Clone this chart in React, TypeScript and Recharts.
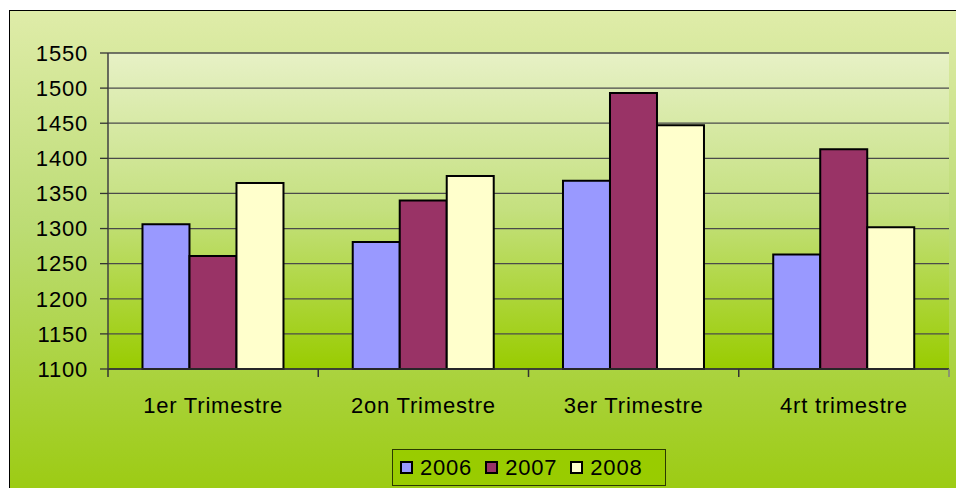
import { BarChart, Bar, XAxis, YAxis, CartesianGrid, Legend } from "recharts"

const quarters = ["1er Trimestre", "2on Trimestre", "3er Trimestre", "4rt trimestre"]
const values2006 = [1306, 1281, 1368, 1263]
const values2007 = [1261, 1340, 1493, 1413]
const values2008 = [1365, 1375, 1447, 1302]
const yTicks = [1100, 1150, 1200, 1250, 1300, 1350, 1400, 1450, 1500, 1550]

const series = [
  { key: "2006", values: values2006, color: "#9999ff" },
  { key: "2007", values: values2007, color: "#993366" },
  { key: "2008", values: values2008, color: "#ffffcc" },
]

const data = quarters.map((q, i) => {
  const row: Record<string, string | number> = { quarter: q }
  series.forEach((s) => {
    row[s.key] = s.values[i]
  })
  return row
})

const CHART_W = 946
const CHART_H = 478
const Y_AXIS_W = 98
const RIGHT_M = 7
const BAND = (CHART_W - Y_AXIS_W - RIGHT_M) / quarters.length
const FONT = "Arial, 'Liberation Sans', sans-serif"

function QuarterTick(props: any) {
  const { x, y, payload, index } = props
  const left = x - BAND / 2
  const right = x + BAND / 2
  return (
    <g>
      <line x1={left} y1={y} x2={left} y2={y + 8} stroke="#333" strokeWidth={1.5} />
      {index === quarters.length - 1 && (
        <line x1={right} y1={y} x2={right} y2={y + 8} stroke="#808080" strokeWidth={1.5} />
      )}
      <text
        x={x}
        y={y + 44}
        textAnchor="middle"
        fill="#000"
        fontSize={22}
        fontFamily={FONT}
        style={{ letterSpacing: 0.8 }}
      >
        {payload.value}
      </text>
    </g>
  )
}

function YearLegend() {
  return (
    <div
      style={{
        width: 274,
        height: 37,
        border: "1px solid #2b3a00",
        background: "#99cc00",
        display: "flex",
        alignItems: "center",
        paddingLeft: 7,
        boxSizing: "border-box",
        fontFamily: FONT,
        fontSize: 22,
        letterSpacing: 0.8,
        color: "#000",
      }}
    >
      {series.map((s) => (
        <div key={s.key} style={{ display: "flex", alignItems: "center", marginRight: 13 }}>
          <span
            style={{
              width: 9,
              height: 9,
              border: "2px solid #000",
              background: s.color,
              marginRight: 7,
            }}
          />
          <span>{s.key}</span>
        </div>
      ))}
    </div>
  )
}

export default function App() {
  return (
    <div
      style={{
        position: "fixed",
        left: 9,
        top: 10,
        width: 960,
        height: CHART_H + 4,
        border: "1px solid #000",
        background: "linear-gradient(to bottom, #dfeca9 0%, #bcdc74 45%, #9ccb12 100%)",
      }}
    >
      <BarChart
        width={CHART_W}
        height={CHART_H}
        data={data}
        margin={{ top: 42, right: RIGHT_M, left: 0, bottom: 0 }}
        barCategoryGap="16.4%"
        barGap={0}
      >
        <defs>
          <linearGradient id="plotBg" x1="0" y1="0" x2="0" y2="1">
            <stop offset="0%" stopColor="#e7f1c6" />
            <stop offset="50%" stopColor="#c4e07e" />
            <stop offset="100%" stopColor="#99cc00" />
          </linearGradient>
        </defs>
        <CartesianGrid
          vertical={false}
          stroke="#4a4a4a"
          strokeWidth={1.3}
          fill="url(#plotBg)"
          fillOpacity={1}
        />
        <XAxis
          dataKey="quarter"
          height={120}
          tickSize={0}
          tickMargin={0}
          tickLine={false}
          axisLine={{ stroke: "#333", strokeWidth: 1.5 }}
          tick={<QuarterTick />}
          interval={0}
        />
        <XAxis
          xAxisId="top"
          dataKey="quarter"
          orientation="top"
          height={0}
          tick={false}
          tickLine={false}
          axisLine={{ stroke: "#808080", strokeWidth: 2 }}
        />
        <YAxis
          width={Y_AXIS_W}
          domain={[1100, 1550]}
          ticks={yTicks}
          interval={0}
          tickSize={8}
          tickMargin={12}
          tickLine={{ stroke: "#333", strokeWidth: 1.3 }}
          axisLine={{ stroke: "#404040", strokeWidth: 1.5 }}
          tick={{ fill: "#000", fontSize: 22, fontFamily: FONT, letterSpacing: 0.8 }}
        />
        <YAxis
          yAxisId="right"
          orientation="right"
          width={0}
          domain={[1100, 1550]}
          tick={false}
          tickLine={false}
          axisLine={{ stroke: "#808080", strokeWidth: 2 }}
        />
        <Legend
          layout="horizontal"
          verticalAlign="middle"
          align="center"
          content={<YearLegend />}
          wrapperStyle={{ left: 382, top: 438, width: 274, height: 37 }}
        />
        {series.map((s) => (
          <Bar
            key={s.key}
            dataKey={s.key}
            fill={s.color}
            stroke="#000"
            strokeWidth={2}
            isAnimationActive={false}
          />
        ))}
      </BarChart>
    </div>
  )
}
